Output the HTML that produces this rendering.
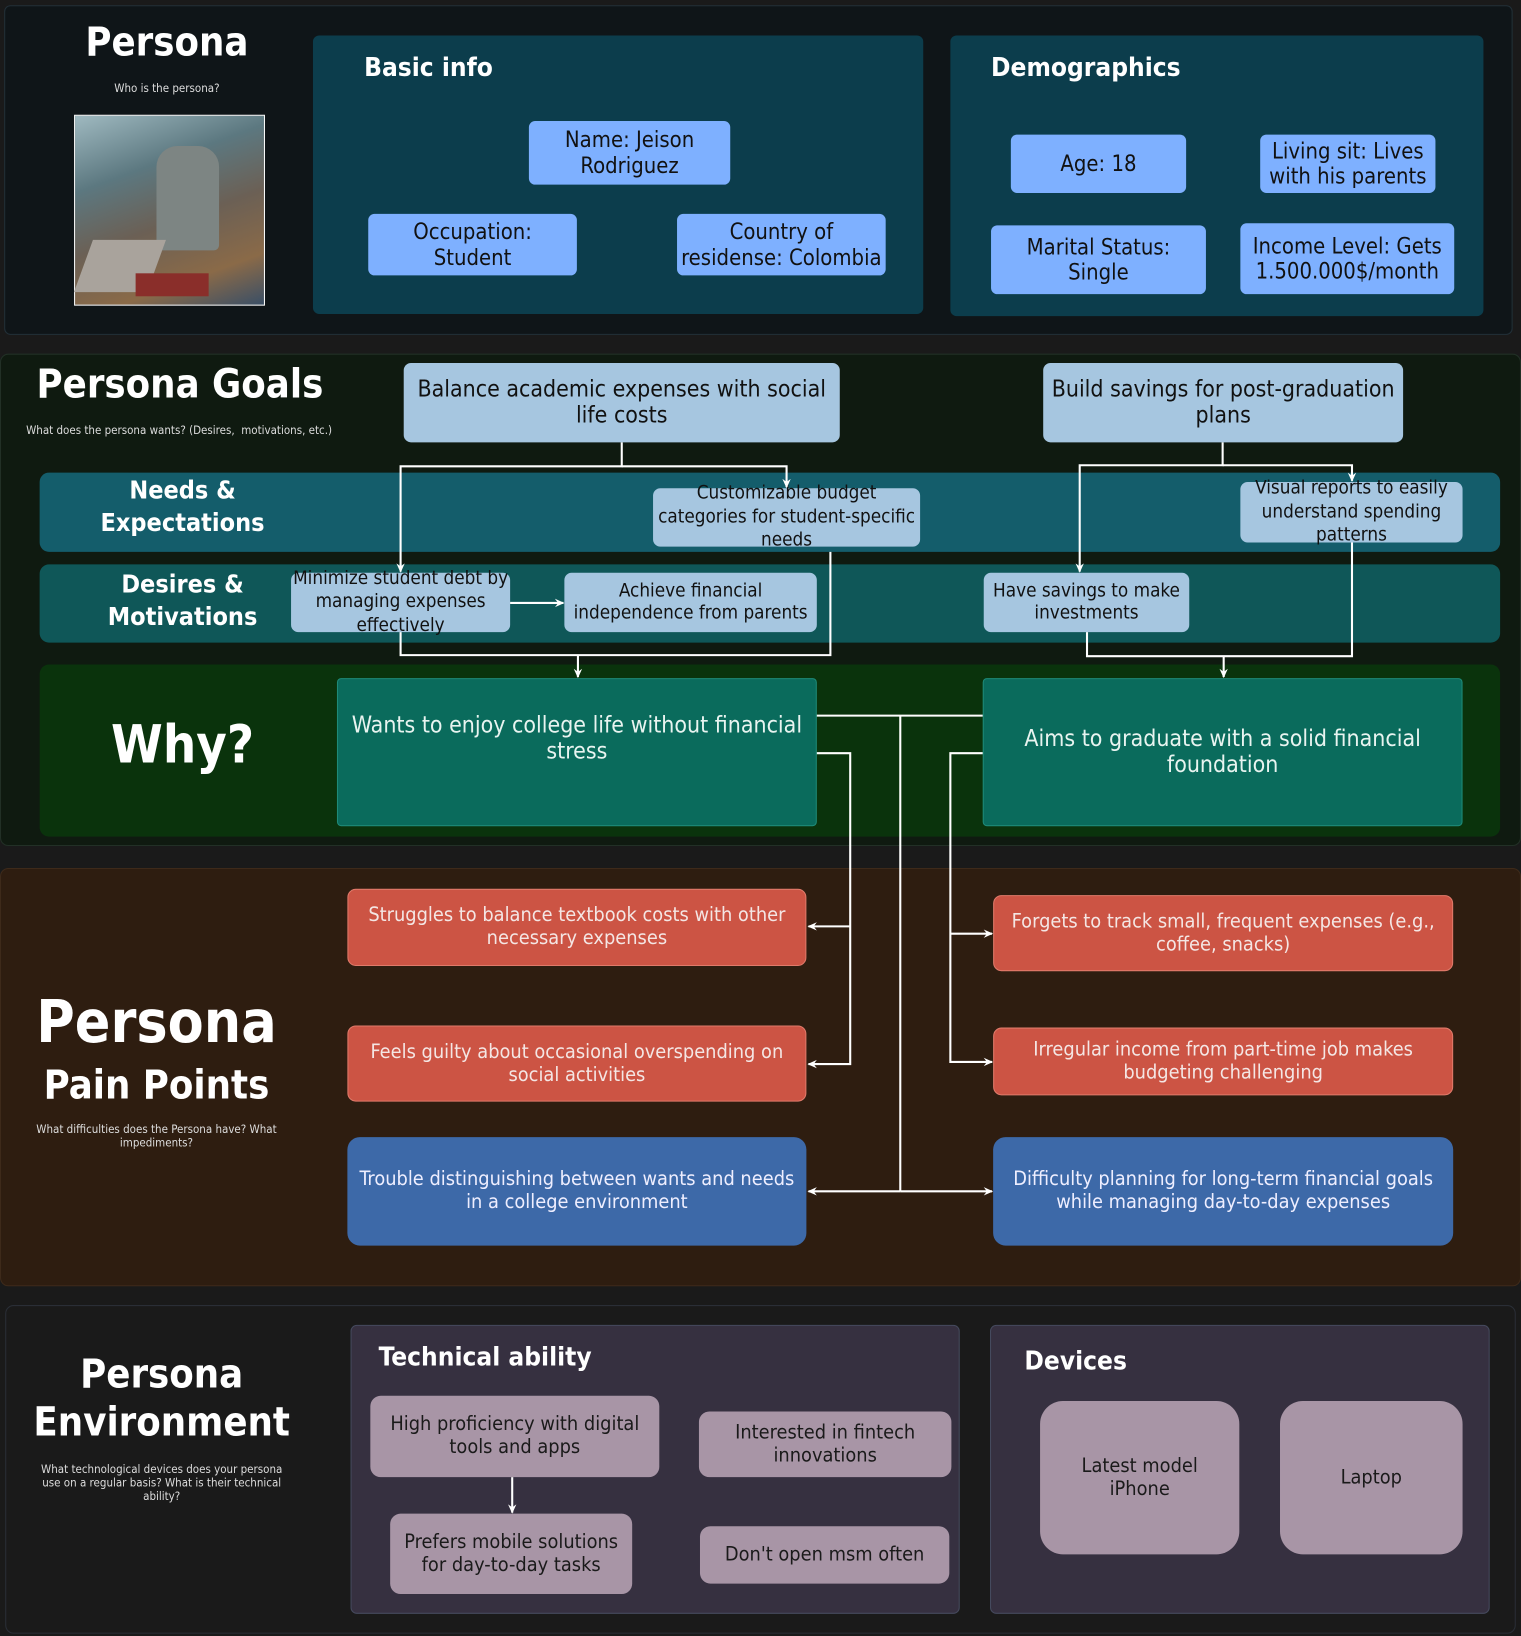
<!DOCTYPE html>
<html><head><meta charset="utf-8"><style>
html,body{margin:0;padding:0;background:#1a1a1a;width:1521px;height:1636px;overflow:hidden}
#c{position:absolute;left:0;top:0;width:1458px;height:1568px;transform:scale(1.0432);transform-origin:0 0;font-family:"DejaVu Sans Condensed","DejaVu Sans","Liberation Sans",sans-serif}
.a{position:absolute;box-sizing:border-box}
.b{position:absolute;box-sizing:border-box;display:flex;align-items:center;justify-content:center;text-align:center;line-height:1.15}
.lb{background:#7eb0ff;color:#111;font-size:21px;border-radius:6px}
.gb{background:#a6c6e0;color:#111;border-radius:7px}
.rd{background:#cc5444;color:#f4e6e4;font-size:19px;border-radius:8px;border:1px solid #e07a6a}
.bl{background:#3d69a8;color:#eef;font-size:19px;border-radius:12px}
.mv{background:#a895a6;color:#1a1a1a;font-size:19px;border-radius:10px}
.t{position:absolute;color:#fff;font-weight:bold;text-align:center}
.s{position:absolute;color:#ddd;font-size:11px;text-align:center}
</style></head><body><div id="c">
<!-- section 1 -->
<div class="a" style="left:4px;top:5px;width:1446px;height:316px;background:#0f1518;border:1px solid #223038;border-radius:6px"></div>
<div class="t" style="left:60px;top:18px;width:200px;font-size:38px">Persona</div>
<div class="s" style="left:60px;top:78px;width:200px">Who is the persona?</div>
<div class="a" style="left:71px;top:110px;width:183px;height:183px;border:1px solid #fff;background:linear-gradient(160deg,#9fb9c0 0%,#5c7880 30%,#6b6055 55%,#8a6a48 80%,#3a4f66 100%)"></div>
<div class="a" style="left:150px;top:140px;width:60px;height:100px;background:#7d8583;border-radius:20px 20px 5px 5px"></div>
<div class="a" style="left:80px;top:230px;width:70px;height:50px;background:#a9a39c;transform:skewX(-20deg)"></div>
<div class="a" style="left:130px;top:262px;width:70px;height:22px;background:#8a2e2a"></div>
<div class="a" style="left:300px;top:34px;width:585px;height:267px;background:#0c3d4c;border-radius:6px"></div>
<div class="t" style="left:349px;top:50px;font-size:25px">Basic info</div>
<div class="b lb" style="left:507px;top:116px;width:193px;height:61px">Name: Jeison Rodriguez</div>
<div class="b lb" style="left:353px;top:205px;width:200px;height:59px;padding:0 30px">Occupation: Student</div>
<div class="b lb" style="left:649px;top:205px;width:200px;height:59px">Country of residense: Colombia</div>
<div class="a" style="left:911px;top:34px;width:511px;height:269px;background:#0c3d4c;border-radius:6px"></div>
<div class="t" style="left:950px;top:50px;font-size:25px">Demographics</div>
<div class="b lb" style="left:969px;top:129px;width:168px;height:56px">Age: 18</div>
<div class="b lb" style="left:1208px;top:129px;width:168px;height:56px">Living sit: Lives with his parents</div>
<div class="b lb" style="left:950px;top:216px;width:206px;height:66px;padding:0 25px">Marital Status: Single</div>
<div class="b lb" style="left:1189px;top:214px;width:205px;height:68px">Income Level: Gets 1.500.000$/month</div>
<!-- section 2 -->
<div class="a" style="left:0;top:339px;width:1458px;height:472px;background:#0f1a10;border:1px solid #223026;border-radius:8px"></div>
<div class="t" style="left:35px;top:346px;font-size:38px;text-align:left">Persona Goals</div>
<div class="s" style="left:25px;top:406px;text-align:left">What does the persona wants? (Desires,&nbsp; motivations, etc.)</div>
<div class="a" style="left:38px;top:453px;width:1400px;height:76px;background:#145d6b;border-radius:9px"></div>
<div class="a" style="left:38px;top:541px;width:1400px;height:75px;background:#0f5758;border-radius:9px"></div>
<div class="a" style="left:38px;top:637px;width:1400px;height:165px;background:#0a330c;border-radius:9px"></div>
<div class="t" style="left:60px;top:455px;width:230px;font-size:24px;line-height:1.3">Needs &amp;<br>Expectations</div>
<div class="t" style="left:60px;top:545px;width:230px;font-size:24px;line-height:1.3">Desires &amp;<br>Motivations</div>
<div class="t" style="left:60px;top:685px;width:230px;font-size:50px">Why?</div>
<div class="b gb" style="left:387px;top:348px;width:418px;height:76px;font-size:22px">Balance academic expenses with social life costs</div>
<div class="b gb" style="left:1000px;top:348px;width:345px;height:76px;font-size:22px">Build savings for post-graduation plans</div>
<div class="b gb" style="left:626px;top:468px;width:256px;height:56px;font-size:18px;line-height:1.25">Customizable budget categories for student-specific needs</div>
<div class="b gb" style="left:1189px;top:462px;width:213px;height:58px;font-size:18px;line-height:1.25">Visual reports to easily understand spending patterns</div>
<div class="b gb" style="left:279px;top:549px;width:210px;height:57px;font-size:18px;line-height:1.25">Minimize student debt by managing expenses effectively</div>
<div class="b gb" style="left:541px;top:549px;width:242px;height:57px;font-size:18px">Achieve financial independence from parents</div>
<div class="b gb" style="left:943px;top:549px;width:197px;height:57px;font-size:18px">Have savings to make investments</div>
<div class="b" style="left:323px;top:650px;width:460px;height:142px;background:#0a6b5c;border:1px solid #1e8a78;border-radius:4px;color:#e8f4f0;font-size:22px;align-items:flex-start;padding:32px 10px 0">Wants to enjoy college life without financial stress</div>
<div class="b" style="left:942px;top:650px;width:460px;height:142px;background:#0a6b5c;border:1px solid #1e8a78;border-radius:4px;color:#e8f4f0;font-size:22px;padding:0 30px">Aims to graduate with a solid financial foundation</div>
<!-- section 3 -->
<div class="a" style="left:0;top:832px;width:1458px;height:401px;background:#2e1d10;border:1px solid #3e2a1a;border-radius:8px"></div>
<div class="t" style="left:20px;top:950px;width:260px;font-size:56px;line-height:1.1">Persona</div>
<div class="t" style="left:20px;top:1018px;width:260px;font-size:38px">Pain Points</div>
<div class="s" style="left:25px;top:1076px;width:250px">What difficulties does the Persona have? What impediments?</div>
<div class="b rd" style="left:333px;top:852px;width:440px;height:74px;padding:0 15px">Struggles to balance textbook costs with other necessary expenses</div>
<div class="b rd" style="left:333px;top:983px;width:440px;height:73px;padding:0 15px">Feels guilty about occasional overspending on social activities</div>
<div class="b rd" style="left:952px;top:858px;width:441px;height:73px;padding:0 10px">Forgets to track small, frequent expenses (e.g., coffee, snacks)</div>
<div class="b rd" style="left:952px;top:985px;width:441px;height:65px;padding:0 20px">Irregular income from part-time job makes budgeting challenging</div>
<div class="b bl" style="left:333px;top:1090px;width:440px;height:104px;padding:0 10px">Trouble distinguishing between wants and needs in a college environment</div>
<div class="b bl" style="left:952px;top:1090px;width:441px;height:104px;padding:0 10px">Difficulty planning for long-term financial goals while managing day-to-day expenses</div>
<!-- section 4 -->
<div class="a" style="left:5px;top:1251px;width:1448px;height:315px;background:#1a1a1a;border:1px solid #2a2e36;border-radius:8px"></div>
<div class="t" style="left:25px;top:1295px;width:260px;font-size:38px;line-height:1.2">Persona<br>Environment</div>
<div class="s" style="left:30px;top:1402px;width:250px">What technological devices does your persona use on a regular basis? What is their technical ability?</div>
<div class="a" style="left:336px;top:1270px;width:584px;height:277px;background:#363040;border:1px solid #454a5e;border-radius:6px"></div>
<div class="t" style="left:363px;top:1286px;font-size:25px">Technical ability</div>
<div class="a" style="left:949px;top:1270px;width:479px;height:277px;background:#363040;border:1px solid #454a5e;border-radius:6px"></div>
<div class="t" style="left:982px;top:1290px;font-size:25px">Devices</div>
<div class="b mv" style="left:355px;top:1338px;width:277px;height:78px">High proficiency with digital tools and apps</div>
<div class="b mv" style="left:670px;top:1353px;width:242px;height:63px">Interested in fintech innovations</div>
<div class="b mv" style="left:374px;top:1451px;width:232px;height:77px">Prefers mobile solutions for day-to-day tasks</div>
<div class="b mv" style="left:671px;top:1463px;width:239px;height:55px">Don't open msm often</div>
<div class="b mv" style="left:997px;top:1343px;width:191px;height:147px;border-radius:22px;padding:0 35px">Latest model iPhone</div>
<div class="b mv" style="left:1227px;top:1343px;width:175px;height:147px;border-radius:22px">Laptop</div>
<!-- connectors -->
<svg class="a" style="left:0;top:0" width="1458" height="1568">
<defs><marker id="m" markerWidth="10" markerHeight="10" refX="8" refY="5" orient="auto" markerUnits="userSpaceOnUse"><path d="M0,1 L9,5 L0,9 L3,5 Z" fill="#fff"/></marker></defs>
<g stroke="#fff" stroke-width="2" fill="none">
<path d="M596,424 V447 H384 V548" marker-end="url(#m)"/>
<path d="M596,447 H754 V467" marker-end="url(#m)"/>
<path d="M1172,424 V446 H1035 V548" marker-end="url(#m)"/>
<path d="M1172,446 H1296 V461" marker-end="url(#m)"/>
<path d="M489,578 H540" marker-end="url(#m)"/>
<path d="M384,606 V628 H796 V529"/>
<path d="M554,628 V649" marker-end="url(#m)"/>
<path d="M1042,606 V629 H1296 V520"/>
<path d="M1173,629 V649" marker-end="url(#m)"/>
<path d="M783,686 H942"/>
<path d="M863,686 V1142"/>
<path d="M863,1142 H775" marker-end="url(#m)"/>
<path d="M863,1142 H951" marker-end="url(#m)"/>
<path d="M783,722 H815 V1020 H775" marker-end="url(#m)"/>
<path d="M815,888 H775" marker-end="url(#m)"/>
<path d="M942,722 H911 V1018 H951" marker-end="url(#m)"/>
<path d="M911,895 H951" marker-end="url(#m)"/>
<path d="M491,1416 V1450" marker-end="url(#m)"/>
</g></svg>
</div></body></html>
